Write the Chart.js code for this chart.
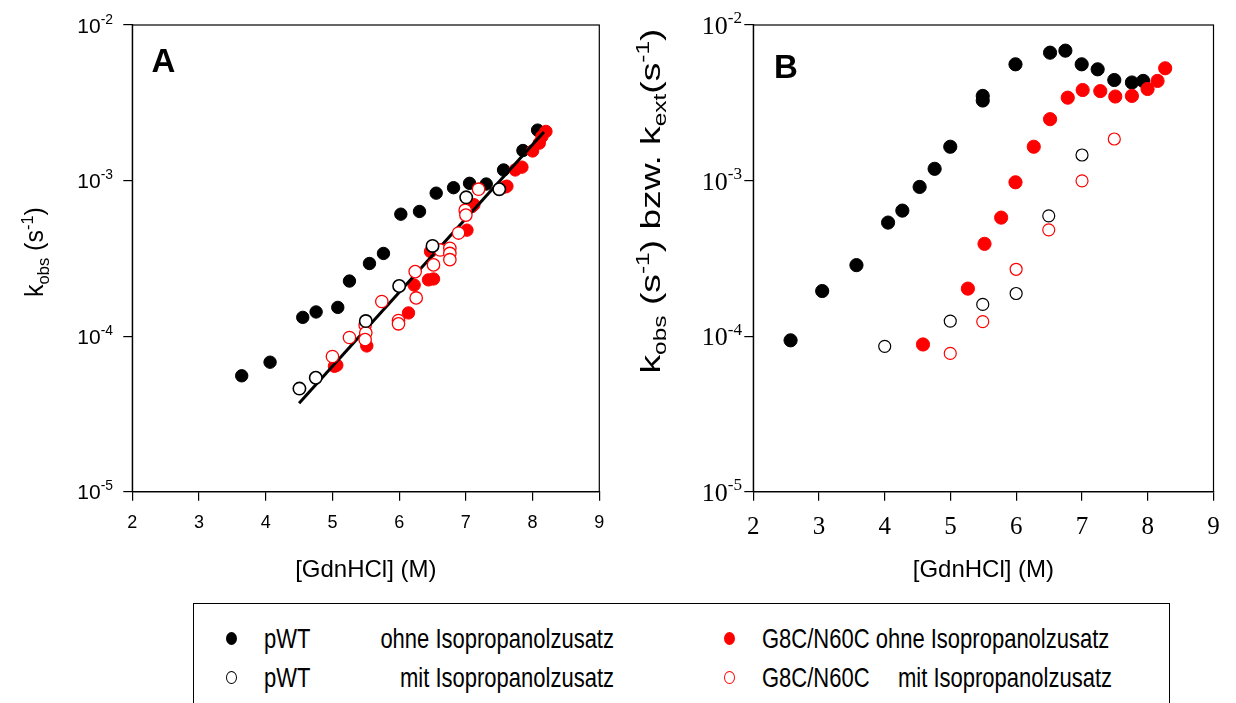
<!DOCTYPE html>
<html>
<head>
<meta charset="utf-8">
<script src="https://cdn.jsdelivr.net/npm/chart.js@4.4.1/dist/chart.umd.min.js"></script>
<style>
  html, body { margin: 0; padding: 0; background: #fff; }
  #wrap { position: relative; width: 1236px; height: 703px; overflow: hidden; background: #fff; }
  canvas { position: absolute; top: 0; }
  #chartA { left: 0; }
  #chartB { left: 620px; }
  #legend { position: absolute; left: 193px; top: 603px; width: 977px; height: 130px; border: 1.5px solid #000; box-sizing: border-box; }
  .lg { position: absolute; font-family: 'Liberation Sans', Arial, sans-serif; font-size: 22px; height: 30px; line-height: 30px; white-space: nowrap; transform: scaleY(1.22); color: #000; }
  .mk { position: absolute; width: 11px; height: 13px; border-radius: 50%; box-sizing: border-box; }
</style>
</head>
<body>
<div id="wrap">
  <canvas id="chartA" width="620" height="600"></canvas>
  <canvas id="chartB" width="616" height="600"></canvas>
  <div id="legend">
    <div class="mk" style="left:32px;top:28px;background:#000;"></div>
    <div class="lg" style="left:70px;top:20px;">pWT</div>
    <div class="lg" style="left:0;width:420px;text-align:right;top:20px;">ohne Isopropanolzusatz</div>
    <div class="mk" style="left:32px;top:67px;border:1.2px solid #000;"></div>
    <div class="lg" style="left:70px;top:59px;">pWT</div>
    <div class="lg" style="left:0;width:420px;text-align:right;top:59px;">mit Isopropanolzusatz</div>
    <div class="mk" style="left:530px;top:28px;background:#f00;"></div>
    <div class="lg" style="left:568px;top:20px;">G8C/N60C ohne Isopropanolzusatz</div>
    <div class="mk" style="left:530px;top:67px;border:1.2px solid #f00;"></div>
    <div class="lg" style="left:568px;top:59px;">G8C/N60C</div>
    <div class="lg" style="left:0;width:918px;text-align:right;top:59px;">mit Isopropanolzusatz</div>
  </div>
</div>
<script>
const X_TICKS = [2, 3, 4, 5, 6, 7, 8, 9];
const Y_TICKS = [1e-5, 1e-4, 1e-3, 1e-2];
const X_TITLE = '[GdnHCl] (M)';

// Panel A  ([GdnHCl], k)
const A_PWT_OHNE = [
  [3.64, 5.56e-5], [4.065, 6.8e-5], [4.555, 1.32e-4], [4.755, 1.43e-4], [5.08, 1.53e-4],
  [5.255, 2.26e-4], [5.555, 2.93e-4], [5.765, 3.4e-4], [6.025, 6.08e-4], [6.305, 6.33e-4],
  [6.555, 8.3e-4], [6.815, 9.0e-4], [7.055, 9.6e-4], [7.305, 9.5e-4], [7.565, 1.17e-3],
  [7.855, 1.56e-3], [8.075, 2.11e-3]
];
const A_PWT_MIT = [
  [4.505, 4.6e-5], [4.75, 5.4e-5], [5.5, 1.25e-4], [6.0, 2.1e-4], [6.5, 3.8e-4],
  [7.005, 7.8e-4], [7.5, 8.8e-4]
];
const A_G8C_OHNE = [
  [5.03, 6.4e-5], [5.065, 6.5e-5], [5.515, 8.65e-5], [6.14, 1.41e-4], [6.225, 2.13e-4],
  [6.44, 2.3e-4], [6.515, 2.33e-4], [6.47, 3.5e-4], [7.016, 4.8e-4], [7.09, 6.8e-4],
  [7.12, 7.0e-4], [7.59, 9.1e-4], [7.615, 9.2e-4], [7.74, 1.17e-3], [7.84, 1.22e-3],
  [8.0, 1.55e-3], [8.1, 1.74e-3], [8.14, 1.92e-3], [8.2, 2.07e-3]
];
const A_G8C_MIT = [
  [5.0, 7.4e-5], [5.255, 9.8e-5], [5.49, 1.18e-4], [5.5, 1.05e-4], [5.49, 9.5e-5],
  [5.74, 1.67e-4], [5.99, 1.26e-4], [5.99, 1.2e-4], [6.24, 2.6e-4], [6.255, 1.76e-4],
  [6.515, 2.87e-4], [6.615, 3.58e-4], [6.76, 3.67e-4], [6.76, 3.4e-4], [6.76, 3.1e-4],
  [6.89, 4.6e-4], [6.99, 6.45e-4], [7.0, 6.0e-4], [7.19, 8.8e-4]
];
const A_FIT = [[4.5, 3.7e-5], [8.17, 2.05e-3]];

// Panel B
const B_PWT_OHNE = [
  [2.567, 9.4e-5], [3.048, 1.95e-4], [3.569, 2.86e-4], [4.05, 5.37e-4], [4.267, 6.41e-4],
  [4.53, 9.1e-4], [4.758, 1.19e-3], [4.996, 1.65e-3], [5.49, 3.5e-3], [5.49, 3.27e-3],
  [5.988, 5.59e-3], [6.514, 6.64e-3], [6.747, 6.84e-3], [6.995, 5.59e-3], [7.238, 5.19e-3],
  [7.491, 4.43e-3], [7.759, 4.27e-3], [7.931, 4.37e-3]
];
const B_PWT_MIT = [
  [3.999, 8.6e-5], [4.996, 1.25e-4], [5.49, 1.6e-4], [5.998, 1.88e-4], [6.494, 5.93e-4], [7.0, 1.46e-3]
];
const B_G8C_OHNE = [
  [4.581, 8.84e-5], [5.264, 2.02e-4], [5.517, 3.92e-4], [5.77, 5.78e-4], [5.988, 9.75e-4],
  [6.266, 1.65e-3], [6.514, 2.48e-3], [6.783, 3.41e-3], [7.01, 3.82e-3], [7.278, 3.76e-3],
  [7.506, 3.47e-3], [7.759, 3.5e-3], [7.997, 3.88e-3], [8.149, 4.37e-3], [8.265, 5.27e-3]
];
const B_G8C_MIT = [
  [4.996, 7.74e-5], [5.49, 1.24e-4], [5.998, 2.69e-4], [6.494, 4.82e-4], [7.0, 9.96e-4], [7.491, 1.85e-3]
];

const SANS = "'Liberation Sans', Arial, sans-serif";
const SERIF = "'Liberation Serif', 'Times New Roman', serif";

function pts(arr) {
  return arr.map(p => ({ x: p[0], y: p[1] }));
}

// text with sub/superscript runs: parts = [[text, ''|'sub'|'sup'], ...]
// len (optional) stretches the run along its direction to that length
function drawRich(ctx, parts, family, size, x, y, align, rotate, len) {
  ctx.save();
  ctx.translate(x, y);
  if (rotate) ctx.rotate(-Math.PI / 2);
  ctx.fillStyle = '#000';
  ctx.textBaseline = 'alphabetic';
  ctx.textAlign = 'left';
  const runs = parts.map(([text, kind]) => {
    const s = kind ? size * 0.66 : size;
    ctx.font = s + 'px ' + family;
    return {
      text,
      font: ctx.font,
      w: ctx.measureText(text).width,
      dy: kind === 'sup' ? -size * 0.42 : kind === 'sub' ? size * 0.22 : 0
    };
  });
  const total = runs.reduce((a, r) => a + r.w, 0);
  if (len) ctx.scale(len / total, 1);
  let cx = align === 'right' ? -total : align === 'center' ? -total / 2 : 0;
  runs.forEach(r => {
    ctx.font = r.font;
    ctx.fillText(r.text, cx, r.dy);
    cx += r.w;
  });
  ctx.restore();
}

const panelDecor = {
  id: 'panelDecor',
  afterDraw(chart, args, o) {
    const ctx = chart.ctx;
    const a = chart.chartArea;
    ctx.save();
    ctx.strokeStyle = '#000';
    ctx.lineWidth = 1.2;
    ctx.strokeRect(a.left, a.top, a.right - a.left, a.bottom - a.top);
    ctx.restore();

    const ys = chart.scales.y;
    Y_TICKS.forEach(v => {
      const e = Math.round(Math.log10(v));
      drawRich(ctx, [['10', ''], [String(e), 'sup']], o.tickFamily, o.tickSize,
        o.tickRight, ys.getPixelForValue(v) + o.tickSize * 0.36, 'right', false);
    });

    drawRich(ctx, o.yTitle, SANS, o.titleSize, o.yTitleX, o.yTitleY, 'center', true, o.yTitleLen);

    ctx.save();
    ctx.fillStyle = '#000';
    ctx.font = 'bold ' + o.letterSize + 'px ' + SANS;
    ctx.textAlign = 'center';
    ctx.textBaseline = 'alphabetic';
    ctx.fillText(o.letter, o.letterX, o.letterY);
    ctx.restore();
  }
};

function makeScales(cfg) {
  const axisLine = { display: true, drawOnChartArea: false, drawTicks: true, tickLength: 9, color: '#000', lineWidth: 1.2 };
  return {
    x: {
      type: 'linear', min: 2, max: 9,
      afterBuildTicks: s => { s.ticks = X_TICKS.map(v => ({ value: v })); },
      afterFit: s => { s.height = cfg.xHeight; s.paddingLeft = 0; s.paddingRight = 0; },
      grid: axisLine,
      border: { display: true, color: '#000', width: 1.2 },
      ticks: { color: '#000', font: { family: cfg.tickFamily, size: cfg.xTickSize }, padding: cfg.xTickPad, maxRotation: 0, autoSkip: false },
      title: { display: true, text: X_TITLE, color: '#000', font: { family: SANS, size: 24 }, padding: { top: 0, bottom: 15.6 } }
    },
    y: {
      type: 'logarithmic', min: 1e-5, max: 1e-2,
      afterBuildTicks: s => { s.ticks = Y_TICKS.map(v => ({ value: v })); },
      afterFit: s => { s.width = cfg.yWidth; s.paddingTop = 0; s.paddingBottom = 0; },
      grid: axisLine,
      border: { display: true, color: '#000', width: 1.2 },
      ticks: { display: false }
    }
  };
}

function filled(data, color, r, order) {
  return { data: pts(data), showLine: false, pointRadius: r, pointHoverRadius: r,
    pointBackgroundColor: color, pointBorderColor: color, pointBorderWidth: 1, order };
}
function open(data, color, r, bw, order) {
  return { data: pts(data), showLine: false, pointRadius: r, pointHoverRadius: r,
    pointBackgroundColor: '#fff', pointBorderColor: color, pointBorderWidth: bw, order };
}

const common = {
  responsive: false,
  animation: false,
  devicePixelRatio: 1,
  events: [],
  plugins: { legend: { display: false }, tooltip: { enabled: false } }
};

new Chart(document.getElementById('chartA'), {
  type: 'scatter',
  data: {
    datasets: [
      open(A_PWT_MIT, '#000', 6.2, 1.6, 0),
      open(A_G8C_MIT, '#f00', 6.2, 1.3, 1),
      { data: pts(A_FIT), showLine: true, pointRadius: 0, borderColor: '#000', borderWidth: 3, order: 2 },
      filled(A_G8C_OHNE, '#f00', 6.2, 3),
      filled(A_PWT_OHNE, '#000', 6.2, 4)
    ]
  },
  options: {
    ...common,
    layout: { padding: { left: 0, top: 25, right: 20.7, bottom: 0 } },
    scales: makeScales({ xHeight: 108.3, yWidth: 132.3, tickFamily: SANS, xTickSize: 18, xTickPad: 11.5 }),
    plugins: {
      ...common.plugins,
      panelDecor: {
        tickFamily: SANS, tickSize: 21, tickRight: 113,
        yTitle: [['k', ''], ['obs', 'sub'], [' (s', ''], ['-1', 'sup'], [')', '']],
        titleSize: 25, yTitleX: 43, yTitleY: 252, yTitleLen: 0,
        letter: 'A', letterSize: 33, letterX: 163.5, letterY: 72
      }
    }
  },
  plugins: [panelDecor]
});

new Chart(document.getElementById('chartB'), {
  type: 'scatter',
  data: {
    datasets: [
      open(B_PWT_MIT, '#000', 6, 1.2, 0),
      open(B_G8C_MIT, '#f00', 6, 1.2, 1),
      filled(B_G8C_OHNE, '#f00', 6.6, 2),
      filled(B_PWT_OHNE, '#000', 6.6, 3)
    ]
  },
  options: {
    ...common,
    layout: { padding: { left: 0, top: 25, right: 22.5, bottom: 0 } },
    scales: makeScales({ xHeight: 108.3, yWidth: 133.3, tickFamily: SERIF, xTickSize: 25, xTickPad: 11.8 }),
    plugins: {
      ...common.plugins,
      panelDecor: {
        tickFamily: SERIF, tickSize: 26, tickRight: 122,
        yTitle: [['k', ''], ['obs', 'sub'], [' (s', ''], ['-1', 'sup'], [') bzw. k', ''], ['ext', 'sub'], ['(s', ''], ['-1', 'sup'], [')', '']],
        titleSize: 27, yTitleX: 40, yTitleY: 201, yTitleLen: 345,
        letter: 'B', letterSize: 33, letterX: 166, letterY: 78
      }
    }
  },
  plugins: [panelDecor]
});
</script>
</body>
</html>
